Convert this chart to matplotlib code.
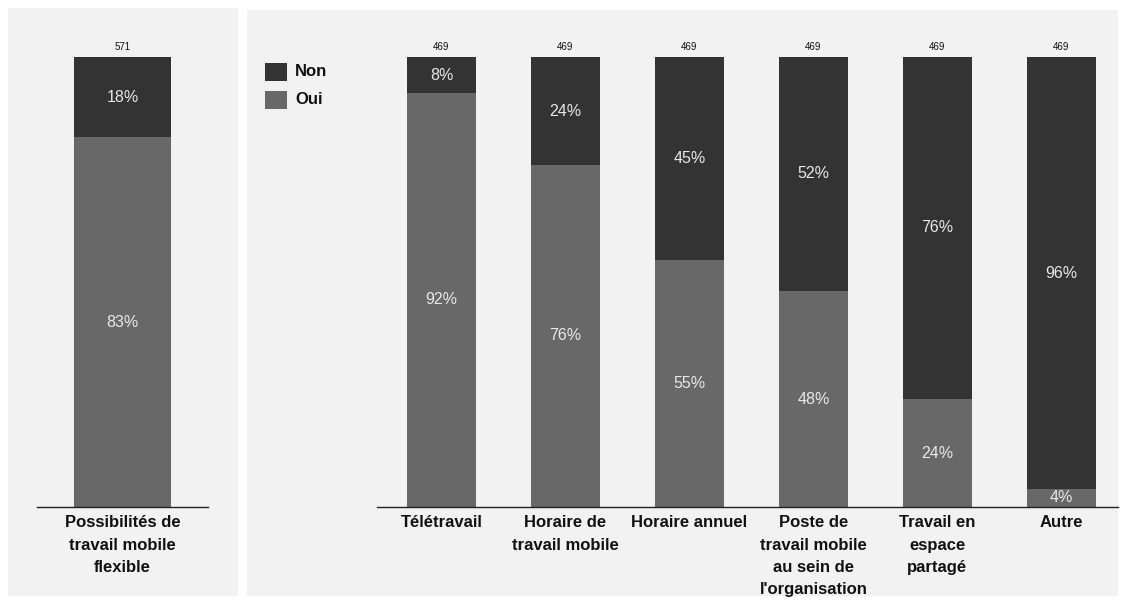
import numpy as np
import matplotlib
matplotlib.use('Agg')
import matplotlib.pyplot as plt
from matplotlib.patches import Rectangle

plt.rcParams['font.family'] = ['Liberation Sans', 'DejaVu Sans']

# data
left_cat = ['Possibilités de\ntravail mobile\nflexible']
left_oui = [83]
left_non = [18]
left_n = [571]

right_cat = ['Télétravail', 'Horaire de\ntravail mobile', 'Horaire annuel',
             'Poste de\ntravail mobile\nau sein de\nl\'organisation',
             'Travail en\nespace\npartagé', 'Autre']
right_oui = [92, 76, 55, 48, 24, 4]
right_non = [8, 24, 45, 52, 76, 96]
right_n = [469, 469, 469, 469, 469, 469]

C_NON = '#333333'
C_OUI = '#686868'
C_BG = '#f2f2f2'

W, H = 1126, 608
fig = plt.figure(figsize=(W / 100, H / 100), dpi=100)
fig.patch.set_facecolor('white')

def px(x0, y0, x1, y1):
    # pixel box (top-left origin) -> figure fraction [l, b, w, h]
    return [x0 / W, 1 - y1 / H, (x1 - x0) / W, (y1 - y0) / H]

# panel backgrounds
for (x0, y0, x1, y1) in [(8, 8, 238, 596), (247, 10, 1118, 596)]:
    l, b, w, h = px(x0, y0, x1, y1)
    fig.patches.append(Rectangle((l, b), w, h, transform=fig.transFigure,
                                 facecolor=C_BG, edgecolor='none', zorder=-5))


def draw_panel(ax, cats, oui, non, n, width, xlim):
    oui = np.array(oui, dtype=float)
    non = np.array(non, dtype=float)
    tot = oui + non
    h_oui = oui / tot * 100
    h_non = non / tot * 100
    x = np.arange(len(cats))
    ax.bar(x, h_oui, width, color=C_OUI, linewidth=0)
    ax.bar(x, h_non, width, bottom=h_oui, color=C_NON, linewidth=0)
    for i in range(len(cats)):
        ax.text(x[i], h_oui[i] / 2, '%d%%' % oui[i], ha='center', va='center',
                color='#e8e8e8', fontsize=11.5)
        ax.text(x[i], h_oui[i] + h_non[i] / 2, '%d%%' % non[i], ha='center',
                va='center', color='#e8e8e8', fontsize=11.5)
        ax.text(x[i], 101.2, str(n[i]), ha='center', va='bottom',
                color='#111111', fontsize=7, clip_on=False)
        ax.text(x[i], -1.8, cats[i], ha='center', va='top', fontsize=12,
                fontweight='bold', color='#111111', linespacing=1.62,
                clip_on=False)
    ax.set_xlim(*xlim)
    ax.set_ylim(0, 100)
    ax.patch.set_visible(False)
    for s in ['top', 'right', 'left']:
        ax.spines[s].set_visible(False)
    ax.spines['bottom'].set_color('#222222')
    ax.spines['bottom'].set_linewidth(1)
    ax.set_xticks([])
    ax.set_yticks([])
    ax.set_zorder(2)


ax1 = fig.add_axes(px(37, 57, 208, 507))
draw_panel(ax1, left_cat, left_oui, left_non, left_n, 1.0, (-0.89, 0.89))

ax2 = fig.add_axes(px(377, 57, 1118, 507))
draw_panel(ax2, right_cat, right_oui, right_non, right_n, 0.556, (-0.52, 5.456))

# legend
for (y0, col, lab) in [(63, C_NON, 'Non'), (91, C_OUI, 'Oui')]:
    l, b, w, h = px(265, y0, 287, y0 + 18)
    fig.patches.append(Rectangle((l, b), w, h, transform=fig.transFigure,
                                 facecolor=col, edgecolor='none', zorder=3))
    fig.text(295 / W, 1 - (y0 + 9) / H, lab, ha='left', va='center',
             fontsize=12, fontweight='bold', color='#111111')

fig.savefig('out.png', dpi=100)
